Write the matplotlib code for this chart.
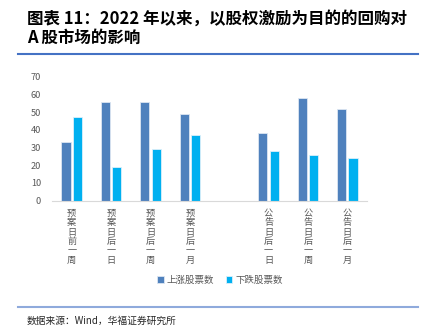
import matplotlib
matplotlib.use("Agg")
import matplotlib.pyplot as plt
import numpy as np
from matplotlib.lines import Line2D

plt.rcParams['font.family'] = ['Noto Sans CJK SC', 'DejaVu Sans']

categories = ["预案日前一周", "预案日后一日", "预案日后一周", "预案日后一月", "",
              "公告日后一日", "公告日后一周", "公告日后一月"]
up_counts = [33, 56, 56, 49, np.nan, 38, 58, 52]
down_counts = [47, 19, 29, 37, np.nan, 28, 26, 24]
series_names = ["上涨股票数", "下跌股票数"]
yticks = [0, 10, 20, 30, 40, 50, 60, 70]

W, H = 423, 334
fig = plt.figure(figsize=(W / 100, H / 100), dpi=100)
fig.patch.set_facecolor('white')

# Title
fig.text(27 / W, 1 - 19 / H, "图表 11：2022 年以来，以股权激励为目的的回购对",
         fontsize=11.9, fontweight='bold', va='center', ha='left', color='black')
fig.text(27 / W, 1 - 38 / H, "A 股市场的影响",
         fontsize=11.9, fontweight='bold', va='center', ha='left', color='black')
fig.add_artist(Line2D([18 / W, 418 / W], [1 - 54 / H, 1 - 54 / H],
                      color='#4472C4', lw=1.5, transform=fig.transFigure))

ax = fig.add_axes([52 / W, 1 - 200.7 / H, (367 - 52) / W, (200.7 - 76.7) / H])
x = np.arange(len(categories))
bw = 0.23
c_up = '#4F81BD'
c_down = '#00B0F0'
ax.bar(x - bw / 2 - 0.03, up_counts, bw, color=c_up, edgecolor='#DCE6F2', linewidth=0.6,
       label=series_names[0])
ax.bar(x + bw / 2 + 0.03, down_counts, bw, color=c_down, edgecolor='#DCF0FA', linewidth=0.6,
       label=series_names[1])
ax.set_xlim(-0.5, len(categories) - 0.5)
ax.set_ylim(0, 70)
ax.set_yticks(yticks)
ax.set_yticklabels([str(v) for v in yticks], fontsize=6.6, color='#595959')
ax.set_xticks(x)
ax.set_xticklabels(["\n".join(c) for c in categories], fontsize=6.6, color='#595959',
                   linespacing=1.05, va='top')
ax.tick_params(axis='both', length=0)
ax.tick_params(axis='x', pad=6)
ax.tick_params(axis='y', pad=8)
for s in ['top', 'right', 'left']:
    ax.spines[s].set_visible(False)
ax.spines['bottom'].set_color('#D9D9D9')
ax.spines['bottom'].set_linewidth(0.8)

leg = fig.legend(loc='center', bbox_to_anchor=(220 / W, 1 - 280 / H), ncol=2, frameon=False,
                 fontsize=6.8, handlelength=0.7, handleheight=0.7, handletextpad=0.3,
                 columnspacing=1.2)
for t in leg.get_texts():
    t.set_color('#595959')

fig.add_artist(Line2D([18 / W, 418 / W], [1 - 307 / H, 1 - 307 / H],
                      color='#8FAADC', lw=1.5, transform=fig.transFigure))
fig.text(27 / W, 1 - 321 / H, "数据来源：Wind，华福证券研究所", fontsize=7, va='center',
         ha='left', color='#262626')

fig.savefig("out.png", dpi=100, facecolor='white')
